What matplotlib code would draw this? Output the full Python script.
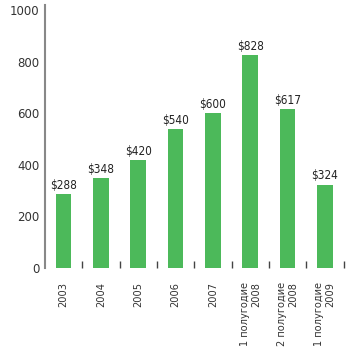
import matplotlib
matplotlib.use("Agg")
import matplotlib.pyplot as plt

categories = ["2003", "2004", "2005", "2006", "2007",
              "1 полугодие\n2008", "2 полугодие\n2008", "1 полугодие\n2009"]
values = [288, 348, 420, 540, 600, 828, 617, 324]
value_labels = ["$288", "$348", "$420", "$540", "$600", "$828", "$617", "$324"]
yticks = [0, 200, 400, 600, 800, 1000]

fig = plt.figure(figsize=(3.56, 3.55), dpi=100)
ax = fig.add_axes([45/356, 87/355, 298.5/356, 263/355])

x = list(range(len(categories)))
ax.bar(x, values, width=0.42, color="#4cb95a")
for xi, v, lab in zip(x, values, value_labels):
    ax.text(xi, v + 8, lab, ha="center", va="bottom", fontsize=8.5,
            color="#222222", family="DejaVu Sans", fontstretch="condensed")

ax.set_xlim(-0.5, 7.5)
ax.set_ylim(0, 1021)
ax.set_yticks(yticks)
ax.set_yticklabels([str(t) for t in yticks], fontsize=8.5, color="#333333")
ax.tick_params(axis="y", length=0, pad=4)

ax.set_xticks(x)
ax.set_xticklabels(categories, rotation=90, fontsize=7.8, color="#333333",
                   family="DejaVu Sans", fontstretch="condensed",
                   va="top", ha="center", multialignment="right",
                   linespacing=1.15)
ax.tick_params(axis="x", length=0, pad=10)
ax.set_xticks([i + 0.5 for i in x], minor=True)
ax.tick_params(axis="x", which="minor", direction="in", length=5, width=1, color="#444444")

for s in ["top", "right", "bottom"]:
    ax.spines[s].set_visible(False)
ax.spines["left"].set_color("#888888")
ax.spines["left"].set_linewidth(1.5)

fig.savefig("out.png", dpi=100)
